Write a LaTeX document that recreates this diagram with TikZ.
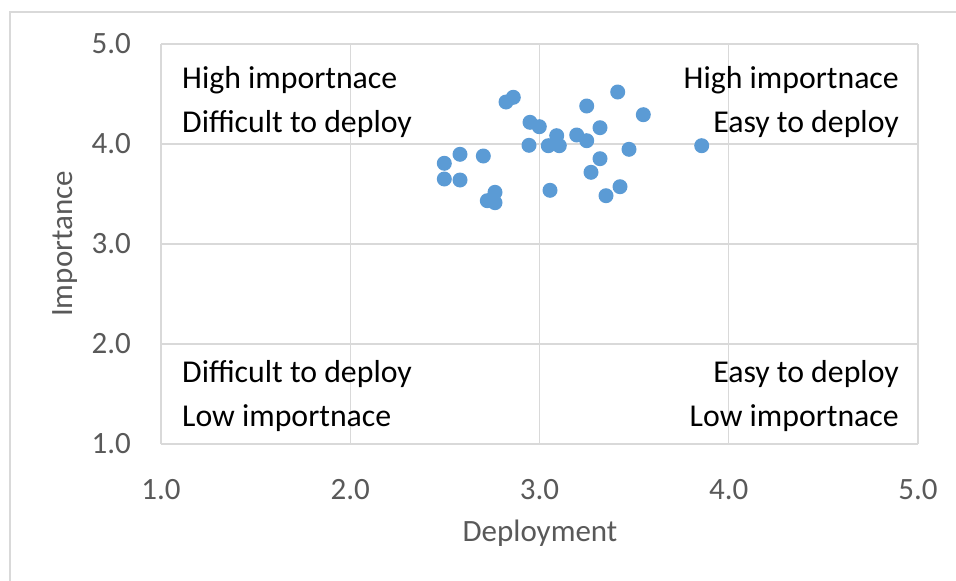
\documentclass[tikz,border=0pt]{standalone}
\usepackage{fontspec}
\setmainfont{Carlito}
\definecolor{gridc}{HTML}{D9D9D9}
\definecolor{axc}{HTML}{595959}
\definecolor{dotc}{HTML}{5B9BD5}
\begin{document}
\begin{tikzpicture}[x=1pt,y=-1pt,
  gridline/.style={draw=gridc,line width=1.3pt},
  frameline/.style={draw=gridc,line width=2pt},
  ticklab/.style={text=axc,font=\fontsize{31}{36}\selectfont,inner sep=0pt},
  axtitle/.style={text=axc,font=\fontsize{31}{36}\selectfont,inner sep=0pt},
  quadlab/.style={text=black,font=\fontsize{31.8}{44}\selectfont,inner sep=0pt,align=left},
  quadlabr/.style={text=black,font=\fontsize{31.8}{44}\selectfont,inner sep=0pt,align=right},
  dot/.style={circle,fill=dotc,draw=none,minimum size=15pt,inner sep=0pt}]
\useasboundingbox (0,0) rectangle (956,581);
\fill[white] (0,0) rectangle (956,581);
% outer frame (partly visible)
\coordinate (fbl) at (10,581);
\coordinate (ftl) at (10,12);
\coordinate (ftr) at (956,12);
\draw[frameline] (fbl) -- (ftl) -- (ftr);
% grid
\foreach \i in {0,...,4}{
  \draw[gridline] ({161+\i*189.25},44) -- ({161+\i*189.25},444);
  \draw[gridline] (161,{44+\i*100}) -- (918,{44+\i*100});
}
% y tick labels
\foreach \v [count=\i from 0] in {5.0,4.0,3.0,2.0,1.0}{
  \node[ticklab,anchor=east] (yl\i) at (131,{44+\i*100}) {\v};
}
% x tick labels
\foreach \v [count=\i from 0] in {1.0,2.0,3.0,4.0,5.0}{
  \node[ticklab] (xl\i) at ({161+\i*189.25},490) {\v};
}
\node[axtitle] (xtitle) at (540,533) {Deployment};
\node[axtitle,rotate=90] (ytitle) at (65,244) {Importance};
% quadrant labels
\node[quadlab,anchor=north west] (tl) at (182,66) {High importnace\\Difficult to deploy};
\node[quadlabr,anchor=north east] (tr) at (899,66) {High importnace\\Easy to deploy};
\node[quadlab,anchor=north west] (bl) at (182,360) {Difficult to deploy\\Low importnace};
\node[quadlabr,anchor=north east] (br) at (899,360) {Easy to deploy\\Low importnace};
% data points
\foreach \px/\py [count=\k] in {
  513.3/97.3, 506/102, 617.7/92, 586.7/106, 643.3/114.7, 530/122.3,
  539.3/126.7, 600/127.7, 556.7/135.7, 576.7/135, 586.7/140.7,
  529/145.3, 548.3/145.7, 559.3/145.7, 629/149.3, 460/154.3,
  483.3/156, 444.3/163.3, 600/158.7, 591/172.3, 444.3/179,
  460/180, 620/186.7, 550/190.3, 495/192.3, 606/195.7,
  487.3/200.7, 495/202.7, 701.7/145.7}{
  \node[dot] (p\k) at (\px,\py) {};
}
\end{tikzpicture}
\end{document}
